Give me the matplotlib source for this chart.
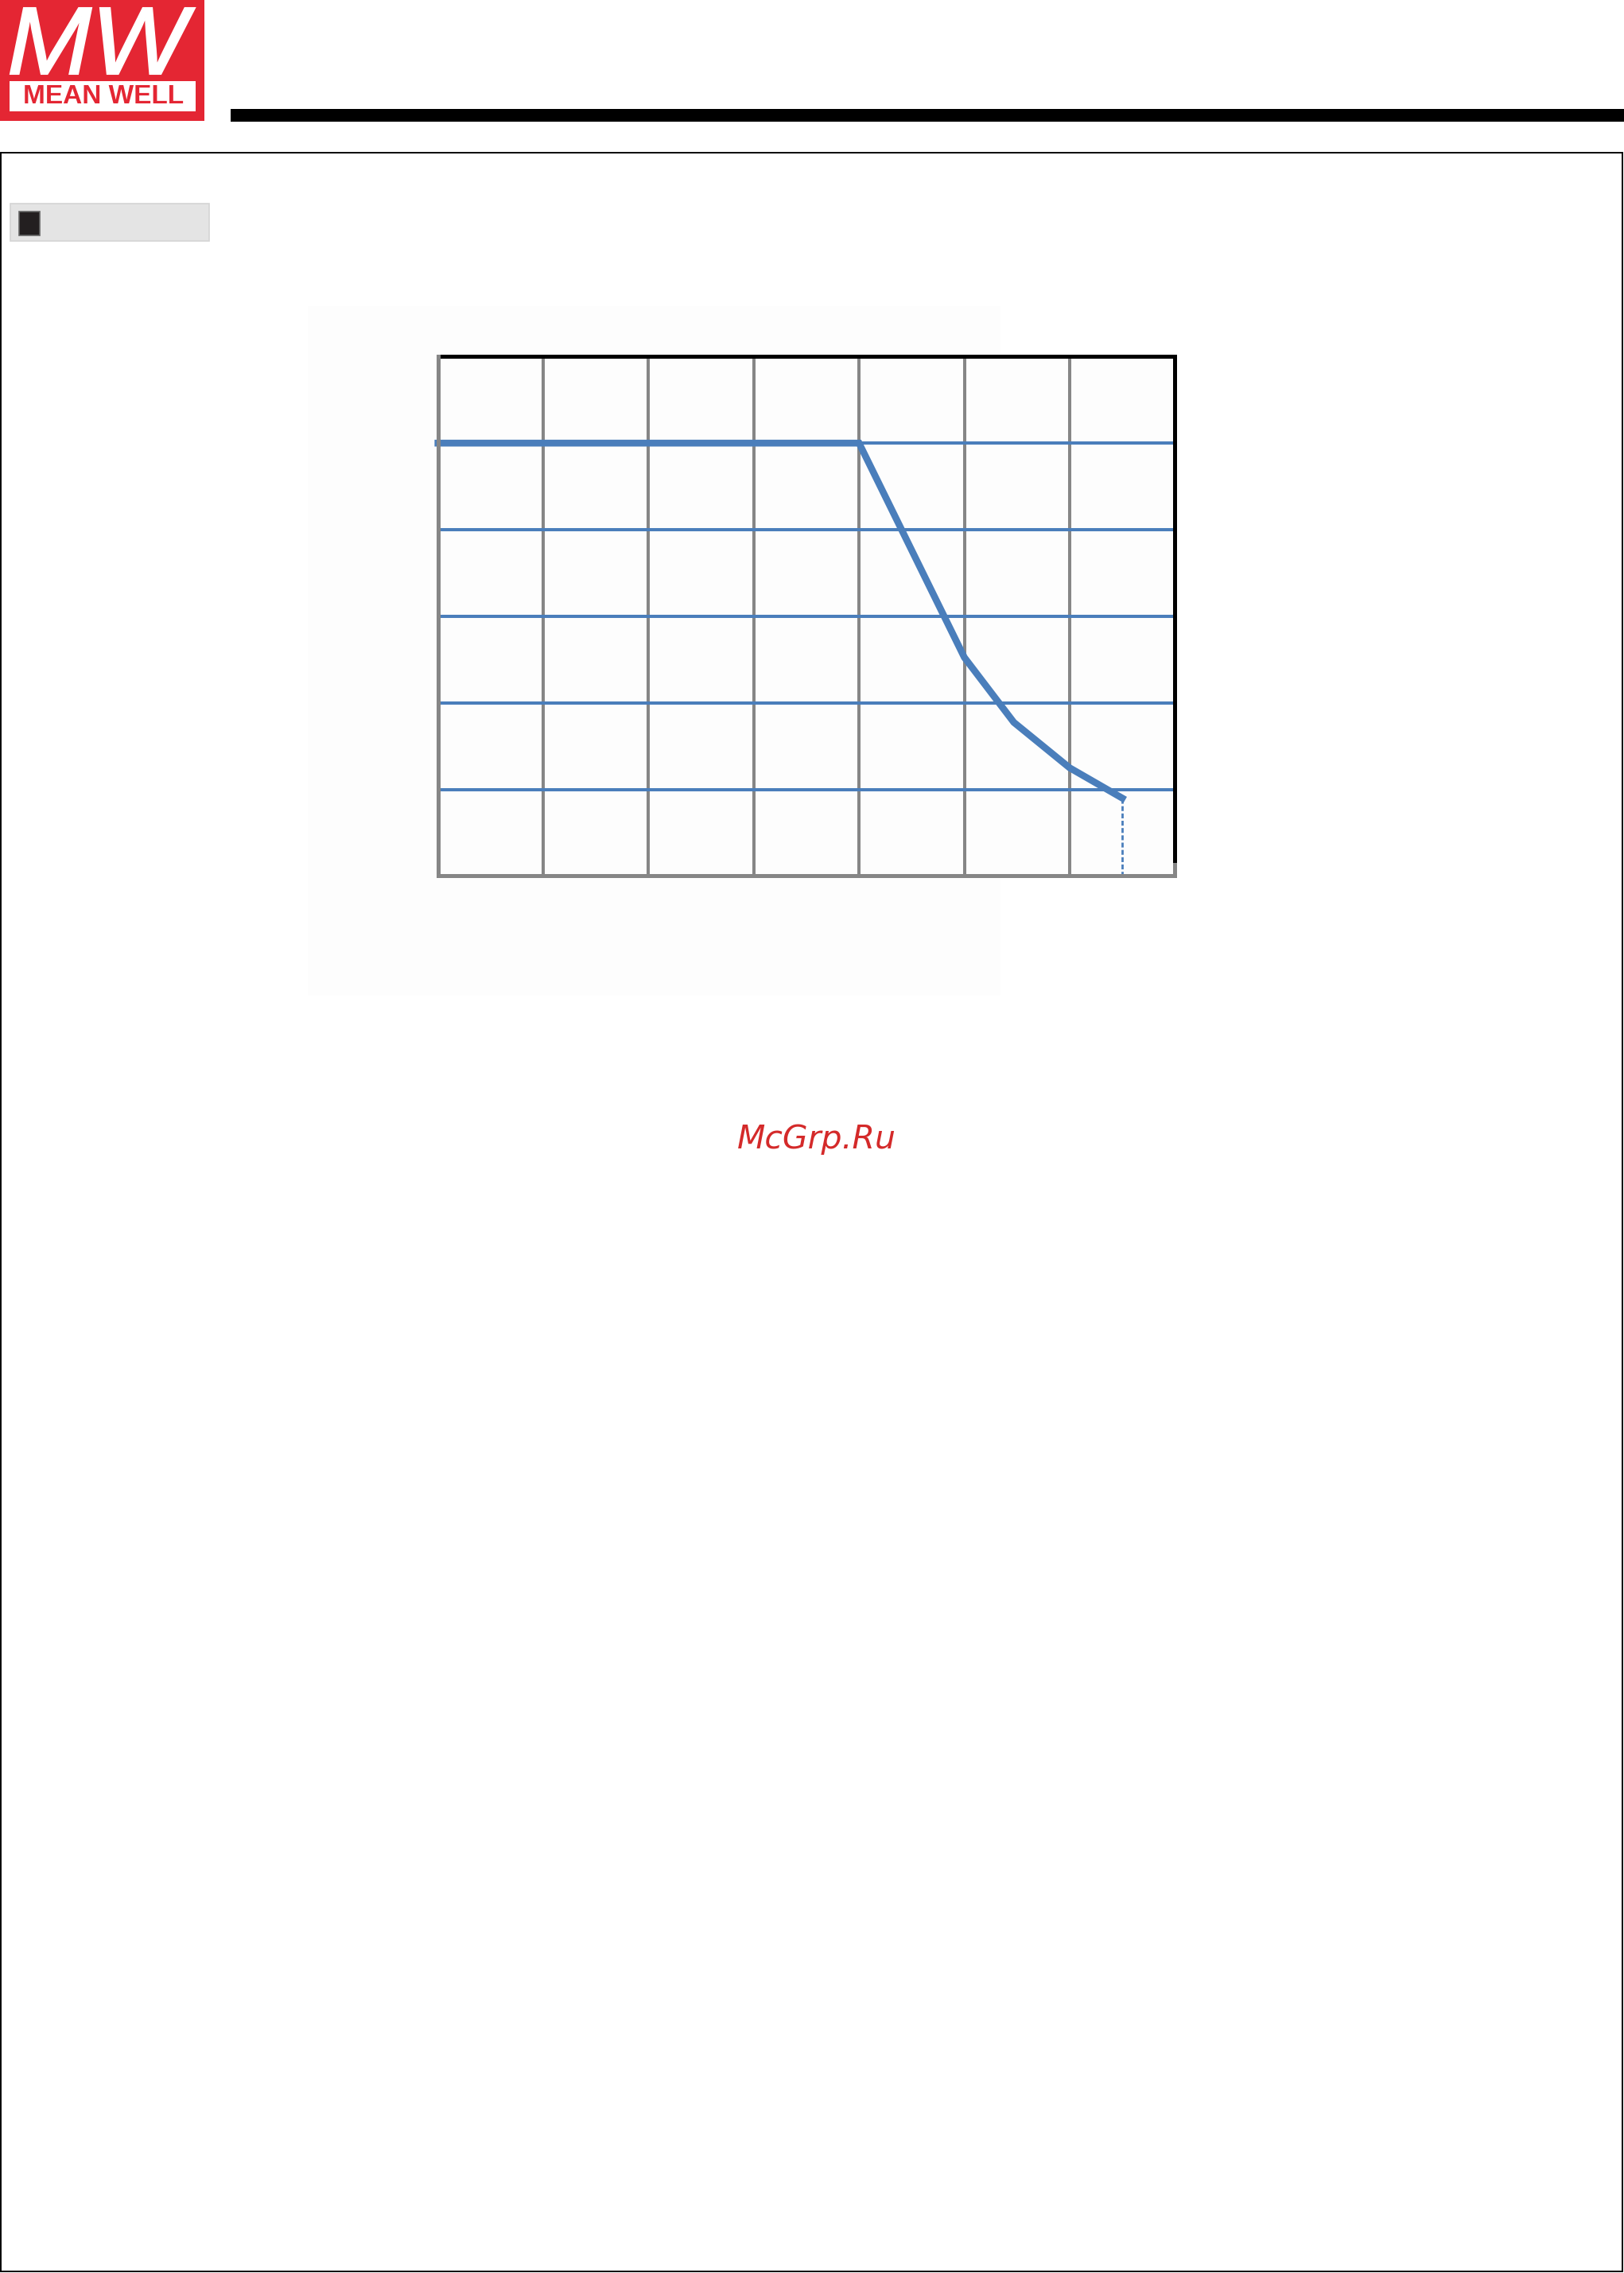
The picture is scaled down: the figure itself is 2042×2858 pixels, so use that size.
import matplotlib
matplotlib.use("Agg")
import matplotlib.pyplot as plt
from matplotlib.patches import Rectangle, PathPatch
from matplotlib.textpath import TextPath
from matplotlib.font_manager import FontProperties
from matplotlib.transforms import Affine2D

# derating curve (labels are not printed on the sheet)
temp_ticks = [0, 10, 20, 30, 40, 50, 60, 70]
load_ticks = [0, 20, 40, 60, 80, 100, 120]
curve_temp = [0, 40, 50, 54.7, 60, 65]
curve_load = [100, 100, 50.5, 35.5, 25, 18]

W, H = 2042, 2858
fig = plt.figure(figsize=(W / 100, H / 100), dpi=100)
fig.patch.set_facecolor("white")

# page decorations in pixel coords
page = fig.add_axes([0, 0, 1, 1], zorder=0)
page.set_xlim(0, W)
page.set_ylim(H, 0)
page.axis("off")

red = "#e42633"
page.add_patch(Rectangle((0, 0), 257, 152, facecolor=red, edgecolor="none"))
page.add_patch(Rectangle((12, 102), 234, 38, facecolor="white", edgecolor="none"))
page.text(130, 121, "MEAN WELL", color=red, fontsize=24, fontweight="bold",
          family="Liberation Sans", ha="center", va="center")

# logo letters stretched into their box
tp = TextPath((0, 0), "MW", size=100,
              prop=FontProperties(family="Liberation Sans", weight="normal", style="italic"))
bb = tp.get_extents()
x0, x1, y0, y1 = 13, 245, 10, 93
tr = (Affine2D().translate(-bb.x0, -bb.y0)
      .scale((x1 - x0) / bb.width, -(y1 - y0) / bb.height)
      .translate(x0, y1))
page.add_patch(PathPatch(tr.transform_path(tp), facecolor="white", edgecolor="white",
                         linewidth=1.5))

page.add_patch(Rectangle((290, 137), W - 290, 16, facecolor="black", edgecolor="none"))
page.add_patch(Rectangle((1, 192), W - 3, H - 194, facecolor="none",
                         edgecolor="black", linewidth=1.4))

page.add_patch(Rectangle((13, 256), 250, 47, facecolor="#e4e4e4",
                         edgecolor="#d4d4d4", linewidth=1.2))
page.add_patch(Rectangle((24, 266), 26, 30, facecolor="#231f20",
                         edgecolor="#666666", linewidth=1.2))

page.add_patch(Rectangle((387, 385), 871, 867, facecolor="#fdfdfd", edgecolor="none"))

page.text(1027, 1432, "McGrp.Ru", color="#d42a2a", fontsize=29.5, style="italic",
          ha="center", va="center")

# chart
ax = fig.add_axes([550.7 / W, 1 - 1101.5 / H, 926.6 / W, 653.2 / H], zorder=1)
ax.set_facecolor("#fdfdfd")
ax.set_xlim(temp_ticks[0], temp_ticks[-1])
ax.set_ylim(load_ticks[0], load_ticks[-1])
ax.set_xticks(temp_ticks)
ax.set_yticks(load_ticks)
ax.set_xticklabels([])
ax.set_yticklabels([])
ax.tick_params(length=0)

for t in temp_ticks[1:-1]:
    ax.axvline(t, color="#868686", linewidth=2.9, zorder=1)
for l in load_ticks[1:-1]:
    ax.axhline(l, color="#4a7ebb", linewidth=2.9, zorder=2)

ax.plot(curve_temp, curve_load, color="#4a7ebb", linewidth=6.2, zorder=4,
        solid_joinstyle="miter", clip_on=False)
ax.plot([curve_temp[-1], curve_temp[-1]], [curve_load[-1], 0], color="#4a7ebb",
        linewidth=2.0, linestyle=(0, (2.2, 1.1)), zorder=3)

for side in ["left", "bottom"]:
    ax.spines[side].set_color("#868686")
    ax.spines[side].set_linewidth(3.6)
for side in ["top", "right"]:
    ax.spines[side].set_color("black")
    ax.spines[side].set_linewidth(3.6)
ax.spines["bottom"].set_zorder(5)
ax.spines["left"].set_zorder(5)
# short grey stub at the foot of the right border
ax.plot([temp_ticks[-1]] * 2, [0, 2.7], color="#868686", linewidth=3.6,
        clip_on=False, zorder=6)

fig.savefig("out.png", dpi=100)
